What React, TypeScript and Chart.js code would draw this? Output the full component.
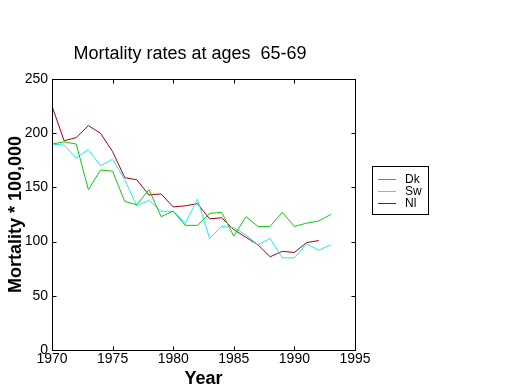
import React, { useEffect, useRef } from 'react';
import { Chart, registerables } from 'chart.js';

Chart.register(...registerables);

const years = [1970, 1971, 1972, 1973, 1974, 1975, 1976, 1977, 1978, 1979, 1980, 1981, 1982, 1983, 1984, 1985, 1986, 1987, 1988, 1989, 1990, 1991, 1992, 1993];
const dk = [190, 192, 190, 148, 166, 165, 137, 134, 148, 123, 128, 115, 115, 126, 127, 105, 123, 114, 114, 127, 114, 117, 119, 125];
const sw = [190, 189, 177, 185, 170, 176, 157, 133, 138, 128, 128, 117, 139, 103, 114, 113, 106, 97, 103, 85, 85, 98, 92, 97];
const nl = [225, 193, 196, 207, 200, 183, 159, 157, 143, 144, 132, 133, 135, 121, 122, 111, 104, 97, 86, 91, 90, 99, 101, null];
const xTicks = [1970, 1975, 1980, 1985, 1990, 1995];
const yTicks = [0, 50, 100, 150, 200, 250];
const seriesNames = ['Dk', 'Sw', 'Nl'];
const seriesColors = ['#10c810', '#20eaea', '#a00010'];
const titleText = 'Mortality rates at ages  65-69';
const xTitle = 'Year';
const yTitle = 'Mortality * 100,000';

const FONT = '"Liberation Sans", Arial, sans-serif';

const framePlugin = {
  id: 'frameAndLegend',
  afterDraw(chart: any) {
    const { ctx, chartArea: a, scales } = chart;
    const x = scales.x;
    const y = scales.y;
    const L = Math.round(a.left) + 0.5;
    const R = Math.round(a.right) + 0.5;
    const T = Math.round(a.top) + 0.5;
    const B = Math.round(a.bottom) + 0.5;
    ctx.save();
    ctx.strokeStyle = '#000';
    ctx.lineWidth = 1;
    ctx.setLineDash([]);
    ctx.strokeRect(L, T, R - L, B - T);
    ctx.beginPath();
    const tl = 4;
    xTicks.forEach((v) => {
      const px = Math.round(x.getPixelForValue(v)) + 0.5;
      ctx.moveTo(px, B); ctx.lineTo(px, B - tl);
      ctx.moveTo(px, T); ctx.lineTo(px, T + tl);
    });
    yTicks.forEach((v) => {
      const py = Math.round(y.getPixelForValue(v)) + 0.5;
      ctx.moveTo(L, py); ctx.lineTo(L + tl, py);
      ctx.moveTo(R, py); ctx.lineTo(R - tl, py);
    });
    ctx.stroke();

    // title
    ctx.fillStyle = '#000';
    ctx.font = `18px ${FONT}`;
    ctx.textAlign = 'center';
    ctx.textBaseline = 'middle';
    ctx.fillText(titleText, 190, 54);

    // legend
    ctx.strokeStyle = '#000';
    ctx.strokeRect(372.5, 166.5, 56, 48);
    ctx.font = `12px ${FONT}`;
    ctx.textAlign = 'left';
    seriesNames.forEach((name, i) => {
      const ly = 179 + i * 12 + 0.5;
      ctx.strokeStyle = seriesColors[i];
      ctx.lineWidth = 1;
      ctx.beginPath();
      ctx.moveTo(378, ly);
      ctx.lineTo(396, ly);
      ctx.stroke();
      ctx.fillStyle = '#000';
      ctx.fillText(name, 405, ly);
    });
    ctx.restore();
  },
};

export default function App() {
  const ref = useRef<HTMLCanvasElement>(null);
  useEffect(() => {
    const canvas = ref.current;
    if (!canvas) return;
    const mk = (vals: (number | null)[]) => years.map((yr, i) => ({ x: yr, y: vals[i] }));
    const chart = new Chart(canvas, {
      type: 'line',
      data: {
        datasets: [dk, sw, nl].map((vals, i) => ({
          label: seriesNames[i],
          data: mk(vals),
          borderColor: seriesColors[i],
          backgroundColor: seriesColors[i],
          borderWidth: 1,
          pointRadius: 0,
          tension: 0,
          fill: false,
          spanGaps: false,
        })),
      },
      options: {
        animation: false,
        responsive: false,
        devicePixelRatio: 1,
        layout: { padding: { left: 0, top: 79, right: 165, bottom: 0 } },
        plugins: {
          legend: { display: false },
          title: { display: false },
          tooltip: { enabled: false },
        },
        scales: {
          x: {
            type: 'linear',
            min: 1970,
            max: 1995,
            afterBuildTicks: (s: any) => { s.ticks = xTicks.map((v) => ({ value: v })); },
            afterFit: (s: any) => { s.height = 40; },
            grid: { display: false, drawTicks: false },
            border: { display: false },
            ticks: {
              color: '#000',
              font: { family: FONT, size: 14 },
              padding: 1,
              maxRotation: 0,
              callback: (v: any) => String(v),
            },
            title: {
              display: true,
              text: xTitle,
              color: '#000',
              font: { family: FONT, size: 18, weight: 'bold' },
              padding: { top: 0, bottom: 0 },
            },
          },
          y: {
            type: 'linear',
            min: 0,
            max: 250,
            afterBuildTicks: (s: any) => { s.ticks = yTicks.map((v) => ({ value: v })); },
            afterFit: (s: any) => { s.width = 52; },
            grid: { display: false, drawTicks: false },
            border: { display: false },
            ticks: {
              color: '#000',
              font: { family: FONT, size: 14 },
              padding: 4,
              callback: (v: any) => String(v),
            },
            title: {
              display: true,
              text: yTitle,
              color: '#000',
              font: { family: FONT, size: 18, weight: 'bold' },
              padding: { top: 5, bottom: 0 },
            },
          },
        },
      },
      plugins: [framePlugin],
    });
    return () => chart.destroy();
  }, []);
  return (
    <div style={{ position: 'fixed', left: 0, top: 0, width: 520, height: 390, background: '#fff' }}>
      <canvas ref={ref} width={520} height={390} />
    </div>
  );
}
